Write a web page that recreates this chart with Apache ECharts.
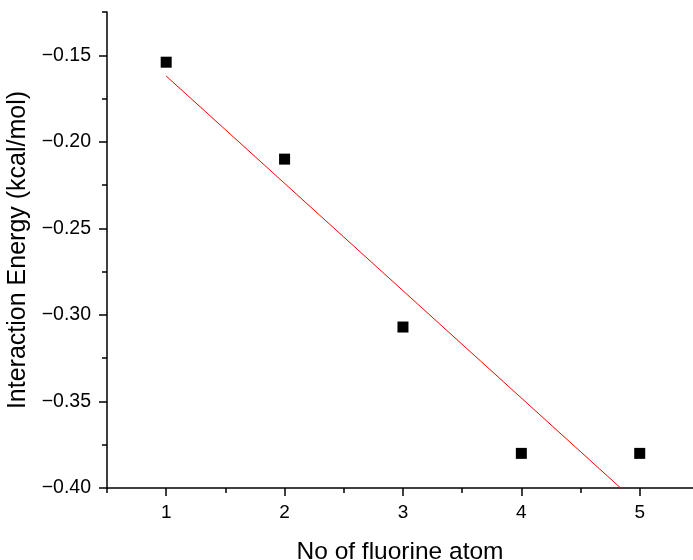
<!DOCTYPE html>
<html>
<head>
<meta charset="utf-8">
<script src="https://cdn.jsdelivr.net/npm/echarts@6/dist/echarts.min.js"></script>
<style>
html,body{margin:0;padding:0;background:#fff;}
#c{width:693px;height:560px;}
</style>
</head>
<body>
<div id="c"></div>
<script>
// Data
var fluorineCount = [1, 2, 3, 4, 5];
var interactionEnergy = [-0.154, -0.210, -0.307, -0.380, -0.380];
// Linear fit line end points
var fitX = [1, 5];
var fitY = [-0.162, -0.410];
// Axis ticks
var xMajorTicks = [1, 2, 3, 4, 5];
var xMinorTicks = [0.5, 1.5, 2.5, 3.5, 4.5];
var yMajorTicks = [-0.40, -0.35, -0.30, -0.25, -0.20, -0.15];
var yMinorTicks = [-0.375, -0.325, -0.275, -0.225, -0.175, -0.125];
var xName = 'No of fluorine atom';
var yName = 'Interaction Energy (kcal/mol)';

var FONT = '"Liberation Sans", Arial, Helvetica, sans-serif';
var X_MIN = 0.5, X_MAX = 5.45, Y_MIN = -0.40, Y_MAX = -0.125;

var chart = echarts.init(document.getElementById('c'), null, {renderer: 'canvas'});
var option = {
  animation: false,
  backgroundColor: '#fff',
  grid: {left: 107, top: 12, right: 0, bottom: 72, containLabel: false, outerBoundsMode: 'none'},
  xAxis: [{
    type: 'value', min: X_MIN, max: X_MAX, position: 'bottom',
    name: xName, nameLocation: 'middle', nameGap: 52,
    nameTextStyle: {fontFamily: FONT, fontSize: 24.5, color: '#000'},
    axisLine: {show: true, onZero: false, lineStyle: {color: '#000', width: 1.5}},
    axisTick: {show: true, inside: false, length: 8, customValues: xMajorTicks, lineStyle: {color: '#000', width: 1.5}},
    axisLabel: {show: true, margin: 15, customValues: xMajorTicks, fontFamily: FONT, fontSize: 19, color: '#000',
      formatter: function (v) { return String(v); }},
    splitLine: {show: false}
  }, {
    type: 'value', min: X_MIN, max: X_MAX, position: 'bottom',
    axisLine: {show: false, onZero: false},
    axisTick: {show: true, inside: false, length: 5, customValues: xMinorTicks, lineStyle: {color: '#000', width: 1.5}},
    axisLabel: {show: false},
    splitLine: {show: false}
  }],
  yAxis: [{
    type: 'value', min: Y_MIN, max: Y_MAX, position: 'left',
    name: yName, nameLocation: 'middle', nameGap: 70,
    nameTextStyle: {fontFamily: FONT, fontSize: 25, color: '#000'},
    axisLine: {show: true, onZero: false, lineStyle: {color: '#000', width: 1.5}},
    axisTick: {show: true, inside: false, length: 8, customValues: yMajorTicks, lineStyle: {color: '#000', width: 1.5}},
    axisLabel: {show: true, margin: 16, customValues: yMajorTicks, fontFamily: FONT, fontSize: 19.5, color: '#000',
      formatter: function (v) { return (v < 0 ? '\u2212' : '') + Math.abs(v).toFixed(2); }},
    splitLine: {show: false}
  }, {
    type: 'value', min: Y_MIN, max: Y_MAX, position: 'left',
    axisLine: {show: false, onZero: false},
    axisTick: {show: true, inside: false, length: 5, customValues: yMinorTicks, lineStyle: {color: '#000', width: 1.5}},
    axisLabel: {show: false},
    splitLine: {show: false}
  }],
  series: [{
    type: 'line',
    xAxisIndex: 0, yAxisIndex: 0,
    data: fitX.map(function (x, i) { return [x, fitY[i]]; }),
    showSymbol: false, symbol: 'none',
    lineStyle: {color: '#ff0000', width: 1},
    clip: true, z: 2
  }, {
    type: 'scatter',
    xAxisIndex: 0, yAxisIndex: 0,
    data: fluorineCount.map(function (x, i) { return [x, interactionEnergy[i]]; }),
    symbol: 'rect', symbolSize: 11,
    itemStyle: {color: '#000', opacity: 1},
    clip: false, z: 3
  }]
};
chart.setOption(option);
</script>
</body>
</html>
